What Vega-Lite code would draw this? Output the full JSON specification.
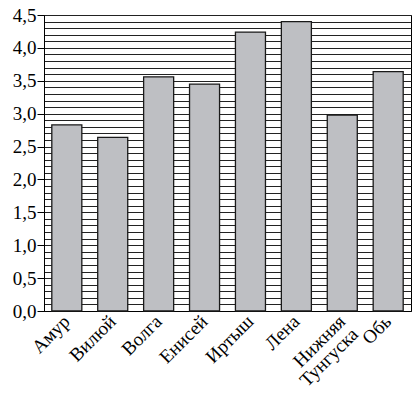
{
  "$schema": "https://vega.github.io/schema/vega-lite/v6.json",
  "width": 367,
  "height": 296,
  "autosize": "none",
  "padding": {"left": 44, "top": 15, "right": 8, "bottom": 91},
  "background": "white",
  "data": {
    "values": [
      {"river": "Амур", "value": 2.83},
      {"river": "Вилюй", "value": 2.64},
      {"river": "Волга", "value": 3.56},
      {"river": "Енисей", "value": 3.45},
      {"river": "Иртыш", "value": 4.24},
      {"river": "Лена", "value": 4.4},
      {"river": "Нижняя Тунгуска", "value": 2.98},
      {"river": "Обь", "value": 3.64}
    ]
  },
  "mark": {"type": "bar", "fill": "#bebfc3", "stroke": "#1a1a1a", "strokeWidth": 1.3},
  "encoding": {
    "x": {
      "field": "river",
      "type": "nominal",
      "sort": null,
      "scale": {"paddingInner": 0.346, "paddingOuter": 0.17},
      "axis": {
        "title": null,
        "ticks": false,
        "grid": false,
        "domainColor": "black",
        "domainWidth": 1,
        "labelAngle": -45,
        "labelAlign": "right",
        "labelBaseline": "middle",
        "labelPadding": 7,
        "labelFont": "Liberation Serif",
        "labelFontSize": 19,
        "labelLineHeight": 18,
        "labelColor": "black",
        "labelExpr": "datum.label == 'Нижняя Тунгуска' ? ['Нижняя', 'Тунгуска'] : datum.label"
      }
    },
    "y": {
      "field": "value",
      "type": "quantitative",
      "scale": {"domain": [0, 4.5], "nice": false, "zero": true},
      "axis": {
        "title": null,
        "values": [0, 0.1, 0.2, 0.3, 0.4, 0.5, 0.6, 0.7, 0.8, 0.9, 1, 1.1, 1.2, 1.3, 1.4, 1.5, 1.6, 1.7, 1.8, 1.9, 2, 2.1, 2.2, 2.3, 2.4, 2.5, 2.6, 2.7, 2.8, 2.9, 3, 3.1, 3.2, 3.3, 3.4, 3.5, 3.6, 3.7, 3.8, 3.9, 4, 4.1, 4.2, 4.3, 4.4, 4.5],
        "grid": true,
        "gridColor": "#222222",
        "gridWidth": 1,
        "gridOpacity": 1,
        "tickSize": 7,
        "tickColor": "black",
        "tickWidth": 1,
        "tickOpacity": {"condition": {"test": "abs(datum.value * 2 - round(datum.value * 2)) < 0.001", "value": 1}, "value": 0},
        "domainColor": "black",
        "domainWidth": 1,
        "labelFont": "Liberation Serif",
        "labelFontSize": 19,
        "labelColor": "black",
        "labelPadding": 1,
        "labelExpr": "abs(datum.value * 2 - round(datum.value * 2)) < 0.001 ? replace(format(datum.value, '.1f'), '.', ',') : ''"
      }
    }
  },
  "config": {
    "view": {"stroke": "black", "strokeWidth": 1}
  }
}
